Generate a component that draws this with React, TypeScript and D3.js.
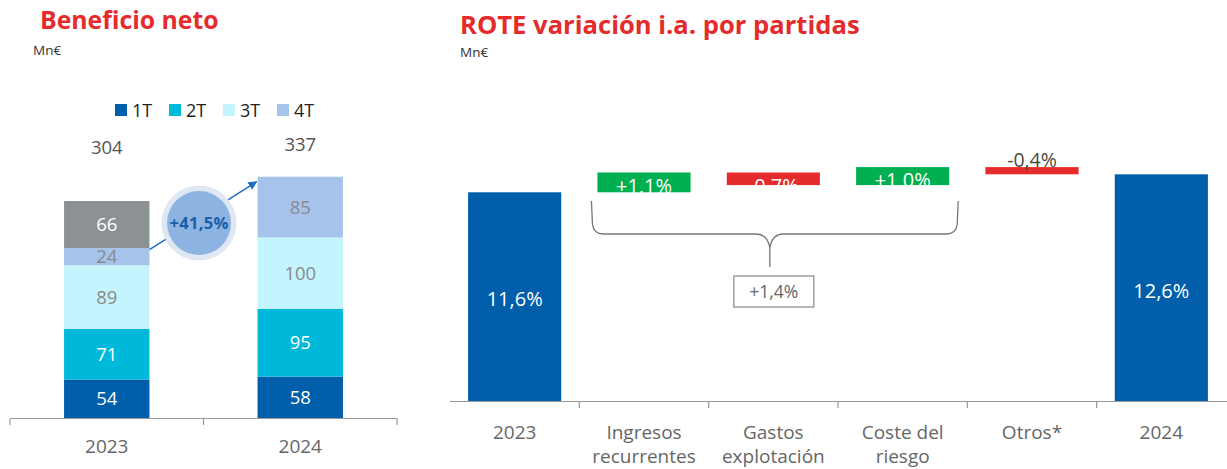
import React from "react";
import * as d3 from "d3";

// ---------- Data: Beneficio neto ----------
const years = ["2023", "2024"];
const quarters = ["1T", "2T", "3T", "4T"];
const q2023 = [54, 71, 89, 24, 66]; // last = gray extra
const q2024 = [58, 95, 100, 85];
const totals = ["304", "337"];
const growthLabel = "+41,5%";

// ---------- Data: ROTE ----------
const roteCats = [["2023"], ["Ingresos", "recurrentes"], ["Gastos", "explotación"], ["Coste del", "riesgo"], ["Otros*"], ["2024"]];
const roteStart = 11.6;
const roteDeltas = [1.1, -0.7, 1.0, -0.4];
const roteEnd = 12.6;
const roteLabels = ["11,6%", "+1,1%", "-0,7%", "+1,0%", "-0,4%", "12,6%"];
const bracketLabel = "+1,4%";

const C = {
  q1: "#005eaa",
  q2: "#00b8d9",
  q3: "#c4f4fd",
  q4: "#a6c4eb",
  gray: "#8c9194",
  red: "#e52b2c",
  green: "#00b050",
  blue: "#005eaa",
  text: "#666666",
};
const segColors = [C.q1, C.q2, C.q3, C.q4, C.gray];
const segTextColors = ["#ffffff", "#ffffff", "#8a8a8a", "#8a8a8a", "#ffffff"];
const FONT = "'Open Sans', sans-serif";
const NARROW = "'Open Sans', sans-serif";

export default function App() {
  // Left chart scales
  const xL = d3.scaleBand<string>().domain(years).range([10, 397]).padding(0);
  const barWL = 85.4;
  const yL = d3.scaleLinear().domain([0, 304]).range([418, 201]);
  const stacks = [q2023, q2024].map((arr) => {
    let acc = 0;
    return arr.map((v, i) => {
      const s = { y0: acc, y1: acc + v, v, i };
      acc += v;
      return s;
    });
  });

  // Right chart scales
  const catKeys = roteCats.map((c) => c.join(" "));
  const xR = d3.scaleBand<string>().domain(catKeys).range([450, 1226]).paddingInner(0.28).paddingOuter(0.14);
  const xRt = d3.scaleBand<string>().domain(catKeys).range([450, 1226]).padding(0);
  const yR = d3.scaleLinear().domain([0, 12.6]).range([401, 174.3]);
  let run = roteStart;
  const floats = roteDeltas.map((d, i) => {
    const a = run;
    run += d;
    return { a, b: run, d, i };
  });

  const bxL = (y: string) => (xL(y) as number) + xL.bandwidth() / 2;
  const bxR = (k: string) => (xR(k) as number) + xR.bandwidth() / 2;

  // bracket geometry from category positions
  const bLeft = (xR(catKeys[1]) as number) - 6;
  const bRight = (xR(catKeys[3]) as number) + xR.bandwidth() + 9;
  const bMid = (bLeft + bRight) / 2 - 5;
  const bTop = 201;
  const bY = 234;
  const bTip = 267;
  const r = 10;
  const bracketPath = `M${bLeft},${bTop} L${bLeft + 1},${bY - r} Q${bLeft + 2},${bY} ${bLeft + r + 2},${bY} L${bMid - 14},${bY} Q${bMid - 2},${bY} ${bMid},${bY + 14} L${bMid},${bTip} M${bMid},${bY + 14} Q${bMid + 2},${bY} ${bMid + 14},${bY} L${bRight - r - 2},${bY} Q${bRight - 2},${bY} ${bRight - 1},${bY - r} L${bRight},${bTop}`;

  return (
    <svg width={1227} height={469} style={{ position: "absolute", left: 0, top: 0 }}>
      <defs>
        <marker id="arr" viewBox="0 0 10 10" refX="9" refY="5" markerWidth="6" markerHeight="6" orient="auto">
          <path d="M0,0 L10,5 L0,10 z" fill="#1f6fc0" />
        </marker>
      </defs>
      <rect width={1227} height={469} fill="#fff" />

      {/* ---------- Left chart ---------- */}
      <text x={40} y={29} fill={C.red} fontFamily={FONT} fontWeight={700} fontSize={24.8}>Beneficio neto</text>
      <text x={33} y={55} fill="#333" fontFamily={FONT} fontSize={13.5}>Mn€</text>

      {quarters.map((q, i) => (
        <g key={q}>
          <rect x={115 + i * 54} y={104} width={12} height={12} fill={segColors[i]} />
          <text x={132 + i * 54} y={117} fill="#222" fontFamily={FONT} fontSize={18}>{q}</text>
        </g>
      ))}

      {stacks.map((st, j) => (
        <g key={years[j]}>
          {st.map((s) => (
            <g key={s.i}>
              <rect x={bxL(years[j]) - barWL / 2} y={yL(s.y1)} width={barWL} height={yL(s.y0) - yL(s.y1)} fill={segColors[s.i]} />
              <text x={bxL(years[j])} y={(yL(s.y0) + yL(s.y1)) / 2 + 6.5} textAnchor="middle" fill={segTextColors[s.i]} fontFamily={FONT} fontSize={18.5}>{s.v}</text>
            </g>
          ))}
          <text x={bxL(years[j])} y={j === 0 ? 154 : 151} textAnchor="middle" fill="#555" fontFamily={FONT} fontSize={18.5}>{totals[j]}</text>
          <text x={bxL(years[j])} y={453} textAnchor="middle" fill={C.text} fontFamily={FONT} fontSize={19}>{years[j]}</text>
        </g>
      ))}
      <line x1={10} x2={397} y1={418.5} y2={418.5} stroke="#999" strokeWidth={1.2} />
      {[10, 203.5, 397].map((t) => (
        <line key={t} x1={t} x2={t} y1={418.5} y2={425} stroke="#999" strokeWidth={1.2} />
      ))}

      {/* arrow + bubble */}
      <line x1={bxL(years[0]) + barWL / 2} y1={yL(q2023.slice(0, 4).reduce((a, b) => a + b, 0) - 2)} x2={bxL(years[1]) - barWL / 2 - 1} y2={yL(338) + 5} stroke="#1f6fc0" strokeWidth={1.5} markerEnd="url(#arr)" />
      <circle cx={199} cy={223} r={37.5} fill="#dfe7f2" />
      <circle cx={199} cy={223} r={32} fill="#8db3e2" />
      <text x={199} y={229} textAnchor="middle" fill="#1a5ea8" fontFamily={FONT} fontWeight={700} fontSize={16.5} letterSpacing={0.3}>{growthLabel}</text>

      {/* ---------- Right chart ---------- */}
      <text x={460} y={34} fill={C.red} fontFamily={FONT} fontWeight={700} fontSize={25.6}>ROTE variación i.a. por partidas</text>
      <text x={460} y={57} fill="#333" fontFamily={FONT} fontSize={13.5}>Mn€</text>

      {/* start & end bars */}
      {[
        { k: catKeys[0], v: roteStart, l: roteLabels[0] },
        { k: catKeys[5], v: roteEnd, l: roteLabels[5] },
      ].map((b) => (
        <g key={b.k}>
          <rect x={xR(b.k)} y={yR(b.v)} width={xR.bandwidth()} height={yR(0) - yR(b.v)} fill={C.blue} />
          <text x={bxR(b.k)} y={yR(b.v * 0.455)} textAnchor="middle" fill="#fff" fontFamily={FONT} fontSize={20}>{b.l}</text>
        </g>
      ))}

      {/* floating bars */}
      {floats.map((f) => {
        const k = catKeys[f.i + 1];
        const top = yR(Math.max(f.a, f.b));
        const bot = yR(Math.min(f.a, f.b));
        const isLast = f.i === floats.length - 1;
        return (
          <g key={k}>
            <rect x={xR(k)} y={top} width={xR.bandwidth()} height={bot - top} fill={f.d >= 0 ? C.green : C.red} />
            {isLast ? (
              <text x={bxR(k)} y={top} textAnchor="middle" fill="#4a4a3c" fontFamily={FONT} fontSize={19.5}>{roteLabels[f.i + 1]}</text>
            ) : (
              <text x={bxR(k)} y={top + 20} textAnchor="middle" fill="#fff" fontFamily={FONT} fontSize={20}>{roteLabels[f.i + 1]}</text>
            )}
          </g>
        );
      })}

      {/* bracket */}
      <path d={bracketPath} fill="none" stroke="#777" strokeWidth={1.3} />
      <rect x={bMid - 36} y={276} width={80} height={31} fill="#fff" stroke="#888" strokeWidth={1.2} />
      <text x={bMid + 4} y={298} textAnchor="middle" fill={C.text} fontFamily={FONT} fontSize={17.5}>{bracketLabel}</text>

      {/* axis */}
      <line x1={450} x2={1227} y1={401.5} y2={401.5} stroke="#999" strokeWidth={1.2} />
      {catKeys.slice(1).map((k) => (
        <line key={k} x1={xRt(k)} x2={xRt(k)} y1={401.5} y2={408} stroke="#999" strokeWidth={1.2} />
      ))}
      {roteCats.map((c, i) => (
        <text key={i} x={(xRt(catKeys[i]) as number) + xRt.bandwidth() / 2} y={439} textAnchor="middle" fill={C.text} fontFamily={NARROW} fontSize={19}>
          {c.map((line, li) => (
            <tspan key={li} x={(xRt(catKeys[i]) as number) + xRt.bandwidth() / 2} dy={li === 0 ? 0 : 24}>{line}</tspan>
          ))}
        </text>
      ))}
    </svg>
  );
}
